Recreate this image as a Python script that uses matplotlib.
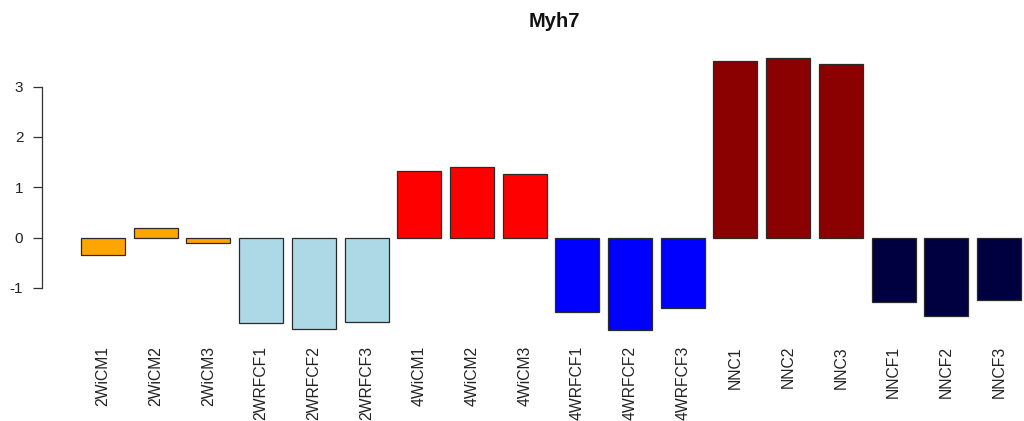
import matplotlib
matplotlib.use("Agg")
import matplotlib.pyplot as plt

plt.rcParams['font.family'] = ['Liberation Sans', 'DejaVu Sans']

samples = ["2WiCM1", "2WiCM2", "2WiCM3",
           "2WRFCF1", "2WRFCF2", "2WRFCF3",
           "4WiCM1", "4WiCM2", "4WiCM3",
           "4WRFCF1", "4WRFCF2", "4WRFCF3",
           "NNC1", "NNC2", "NNC3",
           "NNCF1", "NNCF2", "NNCF3"]
expression = [-0.35, 0.19, -0.10,
              -1.69, -1.81, -1.67,
              1.32, 1.41, 1.26,
              -1.48, -1.84, -1.40,
              3.50, 3.57, 3.44,
              -1.28, -1.56, -1.25]
group_colors = ["orange", "lightblue", "red", "blue", "darkred", "#000040"]
yticks = [-1, 0, 1, 2, 3]

W, H = 1024, 421
fig = plt.figure(figsize=(W / 100, H / 100), dpi=100)

# plot region in pixels
left_px, right_px, top_px, bottom_px = 42, 1024, 40, 335
ax = fig.add_axes([left_px / W, 1 - bottom_px / H,
                   (right_px - left_px) / W, (bottom_px - top_px) / H])

colors = [c for c in group_colors for _ in range(3)]
x = list(range(len(samples)))
ax.bar(x, expression, width=0.835, color=colors,
       edgecolor="#2a2a2a", linewidth=0.9)

# horizontal scale: 52.7 px per bar slot, first bar centred at px 103
step = 52.7
ax.set_xlim(-(103 - left_px) / step, 17 + (right_px - 999) / step)
# vertical scale: 50.3 px per unit, zero at px 237.5
unit = 50.3
ax.set_ylim(-(bottom_px - 237.5) / unit, (237.5 - top_px) / unit)

for s in ["top", "right", "bottom"]:
    ax.spines[s].set_visible(False)
ax.spines["left"].set_bounds(-1, 3)
ax.spines["left"].set_color("#333333")
ax.spines["left"].set_linewidth(0.9)

ax.set_yticks(yticks)
ax.set_yticklabels([str(t) for t in yticks], fontsize=11, color="#222222")
ax.tick_params(axis="y", length=6.5, width=0.9, color="#333333", pad=7)

ax.set_xticks(x)
ax.set_xticklabels(samples, rotation=90, fontsize=11.3, color="#222222",
                   va="top", ha="center")
ax.tick_params(axis="x", length=0, pad=8)

fig.text(554 / W, 1 - 21.5 / H, "Myh7", fontsize=14.5, fontweight="bold",
         ha="center", va="center", color="#111111")

fig.savefig("out.png", dpi=100, facecolor="white")
